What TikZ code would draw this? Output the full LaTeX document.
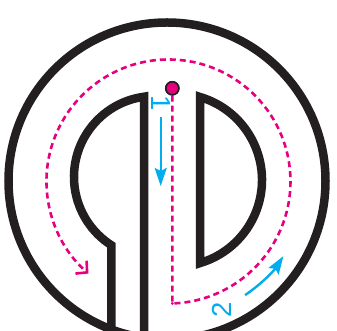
\documentclass[tikz,border=0pt]{standalone}
\usepackage{fontspec}
\setmainfont{Liberation Sans}
\usetikzlibrary{arrows.meta,calc}
\definecolor{ink}{HTML}{231F20}
\definecolor{magentaP}{HTML}{E6007E}
\definecolor{cyanP}{HTML}{00AEEF}
\tikzset{
  wall/.style={draw=ink, line width=8.5pt, line join=miter, miter limit=10},
  route/.style={draw=magentaP, line width=2.6pt, dash pattern=on 6pt off 4pt},
  flow/.style={draw=cyanP, line width=2.4pt, -{Stealth[length=18pt,width=12pt,inset=3pt]}},
  lab/.style={text=cyanP, inner sep=0pt, font=\fontsize{27.5}{30}\selectfont},
  pinkdot/.style={circle, fill=magentaP, draw=ink, line width=1.6pt, minimum size=13pt, inner sep=0pt}
}
\begin{document}
\begin{tikzpicture}[x=1pt,y=1pt]
\useasboundingbox (0,0) rectangle (337,331);
\fill[white] (0,0) rectangle (337,331);
\clip (0,0) rectangle (337,331);
% walls
\draw[wall] (167,150) circle[radius=158.5pt];
\draw[wall] (144,-10) -- (144,234.25) arc[start angle=97.8,end angle=237.5,radius=81pt] -- (111.48,1.5);
\draw[wall] (200,68) -- (200,234) arc[start angle=73.5,end angle=-73.5,radius=86.6pt] -- cycle;
% route
\node[pinkdot] (start) at (172.3,242.7) {};
\coordinate (corner) at (172.3,27.56);
\draw[route, -{Straight Barb[length=8pt,width=17pt]}] (start.south) -- (corner) arc[start angle=271.8, end angle=589, radius=122pt];
\fill[magentaP] (corner) circle[radius=1.6pt];
\node[pinkdot] at (start) {};
% flow arrows
\coordinate (f1s) at (160.7,214);
\coordinate (f1e) at (160.7,145);
\draw[flow] (f1s) -- (f1e);
\coordinate (f2s) at ($(168.5,149.5)+(-56:137pt)$);
\draw[flow] (f2s) arc[start angle=-56,end angle=-33,radius=137pt];
% labels
\node[lab, rotate=-90] (one) at (161,228) {1};
\node[lab, rotate=90] (two) at (222,21) {2};
\end{tikzpicture}
\end{document}
